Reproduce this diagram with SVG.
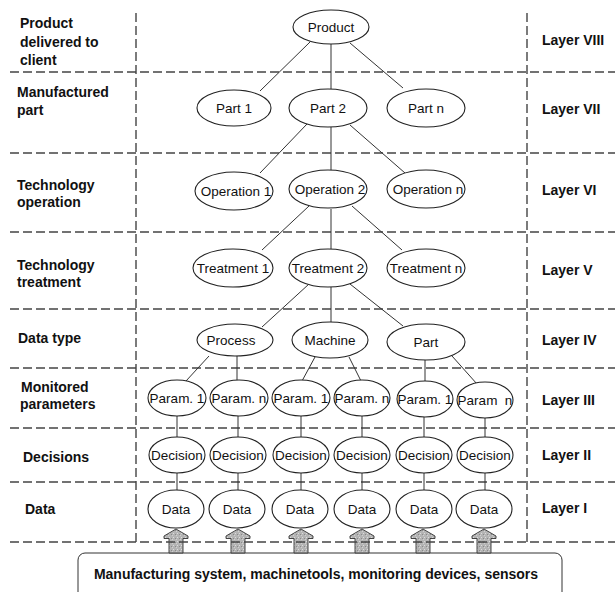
<svg xmlns="http://www.w3.org/2000/svg" width="615" height="592" viewBox="0 0 615 592">
<style>
.grid{stroke:#444;stroke-width:1.4;stroke-dasharray:9 4;fill:none}
.con line{stroke:#333;stroke-width:1}
.nd ellipse{fill:#fff;stroke:#222;stroke-width:1.1}
.nt{font-family:"Liberation Sans",Arial,sans-serif;font-size:13.5px;fill:#111;text-anchor:middle}
.lb{font-family:"Liberation Sans",Arial,sans-serif;font-size:14px;font-weight:bold;fill:#111}
.arr{fill:url(#spk);stroke:#333;stroke-width:0.9}
</style>
<defs>
<pattern id="spk" width="4" height="4" patternUnits="userSpaceOnUse">
<rect width="4" height="4" fill="#b4b4b4"/>
<rect x="1" y="1" width="1" height="1" fill="#dcdcdc"/>
<rect x="3" y="2" width="1" height="1" fill="#8a8a8a"/>
<rect x="0" y="3" width="1" height="1" fill="#d0d0d0"/>
</pattern>
<path id="ar" d="M0,529 L12,536 L12,538.5 L7,538.5 L7,553 L-7,553 L-7,538.5 L-12,538.5 L-12,536 Z"/>
</defs>
<rect width="615" height="592" fill="#fff"/>

<g id="source">
<rect x="78" y="553" width="484" height="52" rx="7" fill="#fff" stroke="#333" stroke-width="1"/>
<text class="lb" x="316" y="579" text-anchor="middle">Manufacturing system, machinetools, monitoring devices, sensors</text>
</g>

<g id="arrows" class="arr">
<use href="#ar" x="176"/>
<use href="#ar" x="238"/>
<use href="#ar" x="301"/>
<use href="#ar" x="362"/>
<use href="#ar" x="423"/>
<use href="#ar" x="484"/>
</g>

<g id="grid" class="grid">
<line x1="10" y1="72" x2="615" y2="72"/>
<line x1="10" y1="153" x2="615" y2="153"/>
<line x1="10" y1="232" x2="615" y2="232"/>
<line x1="10" y1="309" x2="615" y2="309"/>
<line x1="10" y1="368" x2="615" y2="368"/>
<line x1="10" y1="428" x2="615" y2="428"/>
<line x1="10" y1="482" x2="615" y2="482"/>
<line x1="10" y1="542" x2="615" y2="542"/>
<line x1="136" y1="13" x2="136" y2="545"/>
<line x1="527" y1="13" x2="527" y2="545"/>
</g>

<g id="labels-left" class="lb">
<text x="20" y="28">Product</text>
<text x="20" y="47">delivered to</text>
<text x="20" y="65">client</text>
<text x="17" y="97">Manufactured</text>
<text x="17" y="115">part</text>
<text x="17" y="190">Technology</text>
<text x="17" y="207">operation</text>
<text x="17" y="270">Technology</text>
<text x="17" y="287">treatment</text>
<text x="18" y="343">Data type</text>
<text x="21" y="392">Monitored</text>
<text x="20" y="409">parameters</text>
<text x="23" y="462">Decisions</text>
<text x="25" y="514">Data</text>
</g>

<g id="labels-right" class="lb">
<text x="542" y="45">Layer VIII</text>
<text x="542" y="114">Layer VII</text>
<text x="542" y="195">Layer VI</text>
<text x="542" y="275">Layer V</text>
<text x="542" y="345">Layer IV</text>
<text x="542" y="405">Layer III</text>
<text x="542" y="460">Layer II</text>
<text x="542" y="513">Layer I</text>
</g>

<g id="connectors" class="con">
<line x1="310" y1="42" x2="260" y2="91"/>
<line x1="331" y1="44" x2="331" y2="89"/>
<line x1="350" y1="43" x2="403" y2="88"/>
<line x1="307" y1="124" x2="260" y2="173"/>
<line x1="331" y1="127" x2="331" y2="171"/>
<line x1="350" y1="125" x2="405" y2="173"/>
<line x1="309" y1="206" x2="262" y2="250"/>
<line x1="331" y1="209" x2="331" y2="249"/>
<line x1="352" y1="206" x2="402" y2="250"/>
<line x1="309" y1="284" x2="262" y2="327"/>
<line x1="331" y1="287" x2="331" y2="322"/>
<line x1="350" y1="284" x2="403" y2="326"/>
<line x1="209" y1="356" x2="186" y2="381"/>
<line x1="237" y1="356" x2="237" y2="380"/>
<line x1="315" y1="357" x2="302" y2="381"/>
<line x1="349" y1="357" x2="361" y2="381"/>
<line x1="425" y1="360" x2="425" y2="381"/>
<line x1="452" y1="356" x2="477" y2="384"/>
<line x1="177" y1="416" x2="177" y2="437"/>
<line x1="238" y1="416" x2="238" y2="437"/>
<line x1="301" y1="416" x2="301" y2="437"/>
<line x1="362" y1="416" x2="362" y2="437"/>
<line x1="424" y1="416" x2="424" y2="437"/>
<line x1="485" y1="418" x2="485" y2="437"/>
<line x1="177" y1="473" x2="177" y2="490"/>
<line x1="238" y1="473" x2="238" y2="490"/>
<line x1="301" y1="473" x2="301" y2="490"/>
<line x1="362" y1="473" x2="362" y2="490"/>
<line x1="424" y1="473" x2="424" y2="490"/>
<line x1="485" y1="473" x2="485" y2="490"/>
</g>

<g id="n-product" class="nd"><ellipse cx="331" cy="27" rx="38" ry="17"/><text class="nt" x="331" y="31.5">Product</text></g>
<g id="n-part1" class="nd"><ellipse cx="234" cy="108" rx="37" ry="18"/><text class="nt" x="234" y="113">Part 1</text></g>
<g id="n-part2" class="nd"><ellipse cx="328" cy="108" rx="39" ry="19"/><text class="nt" x="328" y="113">Part 2</text></g>
<g id="n-partn" class="nd"><ellipse cx="426" cy="108" rx="39" ry="19"/><text class="nt" x="426" y="113">Part n</text></g>
<g id="n-op1" class="nd"><ellipse cx="234" cy="191" rx="39" ry="19"/><text class="nt" x="236" y="195.5">Operation 1</text></g>
<g id="n-op2" class="nd"><ellipse cx="328" cy="189" rx="39" ry="19"/><text class="nt" x="330" y="193.5">Operation 2</text></g>
<g id="n-opn" class="nd"><ellipse cx="426" cy="189" rx="39" ry="19"/><text class="nt" x="428" y="193.5">Operation n</text></g>
<g id="n-tr1" class="nd"><ellipse cx="233" cy="268" rx="40" ry="19"/><text class="nt" x="233" y="272.5">Treatment 1</text></g>
<g id="n-tr2" class="nd"><ellipse cx="328" cy="268" rx="39" ry="19"/><text class="nt" x="328" y="272.5">Treatment 2</text></g>
<g id="n-trn" class="nd"><ellipse cx="426" cy="268" rx="39" ry="19"/><text class="nt" x="426" y="272.5">Treatment n</text></g>
<g id="n-process" class="nd"><ellipse cx="235" cy="340" rx="38" ry="16"/><text class="nt" x="231" y="344.5">Process</text></g>
<g id="n-machine" class="nd"><ellipse cx="330" cy="340" rx="38" ry="18"/><text class="nt" x="330" y="344.5">Machine</text></g>
<g id="n-part" class="nd"><ellipse cx="426" cy="342" rx="39" ry="18"/><text class="nt" x="426" y="346.5">Part</text></g>
<g id="n-param1a" class="nd"><ellipse cx="177" cy="398" rx="29" ry="18"/><text class="nt" x="177" y="402.5">Param. 1</text></g>
<g id="n-paramna" class="nd"><ellipse cx="239" cy="398" rx="29" ry="18"/><text class="nt" x="239" y="402.5">Param. n</text></g>
<g id="n-param1b" class="nd"><ellipse cx="301" cy="398" rx="29" ry="18"/><text class="nt" x="301" y="402.5">Param. 1</text></g>
<g id="n-paramnb" class="nd"><ellipse cx="362" cy="398" rx="28" ry="18"/><text class="nt" x="362" y="402.5">Param. n</text></g>
<g id="n-param1c" class="nd"><ellipse cx="425" cy="399" rx="28" ry="18"/><text class="nt" x="425" y="403.5">Param. 1</text></g>
<g id="n-paramnc" class="nd"><ellipse cx="485" cy="400" rx="28" ry="18"/><text class="nt" x="485" y="404.5" xml:space="preserve">Param  n</text></g>
<g id="n-dec1" class="nd"><ellipse cx="177" cy="455" rx="28" ry="18"/><text class="nt" x="177" y="459.5">Decision</text></g>
<g id="n-dec2" class="nd"><ellipse cx="238" cy="455" rx="28" ry="18"/><text class="nt" x="238" y="459.5">Decision</text></g>
<g id="n-dec3" class="nd"><ellipse cx="301" cy="455" rx="28" ry="18"/><text class="nt" x="301" y="459.5">Decision</text></g>
<g id="n-dec4" class="nd"><ellipse cx="362" cy="455" rx="28" ry="18"/><text class="nt" x="362" y="459.5">Decision</text></g>
<g id="n-dec5" class="nd"><ellipse cx="424" cy="455" rx="28" ry="18"/><text class="nt" x="424" y="459.5">Decision</text></g>
<g id="n-dec6" class="nd"><ellipse cx="485" cy="455" rx="28" ry="18"/><text class="nt" x="485" y="459.5">Decision</text></g>
<g id="n-data1" class="nd"><ellipse cx="176" cy="509" rx="28" ry="19"/><text class="nt" x="176" y="513.5">Data</text></g>
<g id="n-data2" class="nd"><ellipse cx="237" cy="509" rx="28" ry="19"/><text class="nt" x="237" y="513.5">Data</text></g>
<g id="n-data3" class="nd"><ellipse cx="300" cy="509" rx="28" ry="19"/><text class="nt" x="300" y="513.5">Data</text></g>
<g id="n-data4" class="nd"><ellipse cx="362" cy="509" rx="28" ry="19"/><text class="nt" x="362" y="513.5">Data</text></g>
<g id="n-data5" class="nd"><ellipse cx="424" cy="509" rx="28" ry="19"/><text class="nt" x="424" y="513.5">Data</text></g>
<g id="n-data6" class="nd"><ellipse cx="484" cy="509" rx="28" ry="19"/><text class="nt" x="484" y="513.5">Data</text></g>
</svg>
